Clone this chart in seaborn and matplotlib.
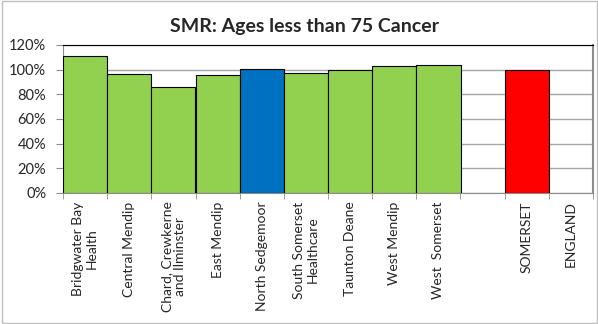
import numpy as np
import pandas as pd
import matplotlib
matplotlib.use("Agg")
import matplotlib.pyplot as plt
import seaborn as sns
from matplotlib.ticker import PercentFormatter
from matplotlib.patches import Rectangle

# chart data
areas = ["Bridgwater Bay\nHealth", "Central Mendip", "Chard, Crewkerne\nand Ilminster",
         "East Mendip", "North Sedgemoor", "South Somerset\nHealthcare", "Taunton Deane",
         "West Mendip", "West  Somerset", " ", "SOMERSET", "ENGLAND"]
smr = [1.113, 0.963, 0.862, 0.953, 1.005, 0.973, 0.995, 1.028, 1.034, np.nan, 1.0, np.nan]
bar_colors = ["#92D050"] * 4 + ["#0070C0"] + ["#92D050"] * 4 + ["#FFFFFF", "#FF0000", "#FFFFFF"]

df = pd.DataFrame({"area": areas, "smr": smr})

sns.set_style("white")
plt.rcParams["font.family"] = ["Lato", "DejaVu Sans"]

fig = plt.figure(figsize=(5.98, 3.24), dpi=100)
ax = fig.add_axes([63 / 598, 1 - 193 / 324, 530 / 598, 148 / 324])

sns.barplot(data=df, x="area", y="smr", hue="area", palette=bar_colors, legend=False,
            saturation=1, width=1.0, edgecolor="black", linewidth=0.8, ax=ax, zorder=3)

ax.set_ylim(0, 1.2)
ax.set_xlim(-0.5, len(areas) - 0.5)
ax.set_yticks(np.arange(0, 1.21, 0.2))
ax.yaxis.set_major_formatter(PercentFormatter(1.0, decimals=0))
ax.grid(axis="y", color="#A6A6A6", linewidth=1.0, zorder=0)
ax.set_xlabel("")
ax.set_ylabel("")

# labels at category centres, tick marks between categories
ax.set_xticks(range(len(areas)))
ax.set_xticklabels(areas, rotation=90, fontsize=10, ha="center", va="top",
                   multialignment="center", linespacing=1.15)
ax.set_xticks(np.arange(-0.5, len(areas), 1), minor=True)
ax.tick_params(axis="x", which="major", length=0, pad=6)
ax.tick_params(axis="x", which="minor", length=4, color="#8C8C8C", direction="out", bottom=True)
ax.tick_params(axis="y", length=5, color="#8C8C8C", direction="out", left=True, labelsize=10.5, pad=7)

for side in ["left", "bottom"]:
    ax.spines[side].set_color("#8C8C8C")
ax.spines["top"].set_color("black")
ax.spines["right"].set_color("#8C8C8C")
ax.spines["right"].set_linewidth(1.5)

fig.text(305 / 598, 1 - 32 / 324, "SMR: Ages less than 75 Cancer", fontsize=14,
         fontweight="bold", ha="center", va="baseline")

fig.patches.append(Rectangle((0.004, 0.003), 0.995, 0.994, transform=fig.transFigure,
                             fill=False, edgecolor="#BFBFBF", linewidth=1.0))

fig.savefig("out.png", dpi=100)
